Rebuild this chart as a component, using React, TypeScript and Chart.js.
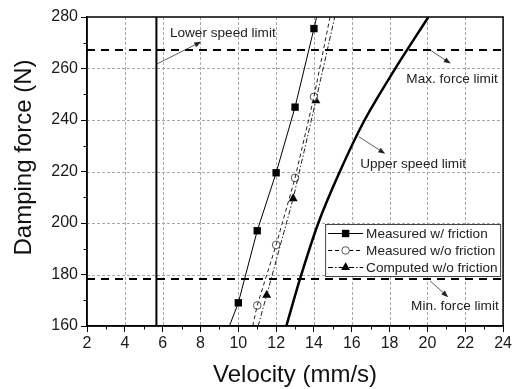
import React, { useEffect, useRef } from "react";
import { Chart, registerables } from "chart.js";

Chart.register(...registerables);

// ---- Data (velocity in mm/s, damping force in N) ----
const measuredFrictionV = [10, 11, 12, 13, 14];
const measuredFrictionF = [169, 197, 219.5, 245, 275.5];
const measuredFrictionFitV = [9.53, 10, 11, 12, 13, 14, 14.14];
const measuredFrictionFitF = [160, 169, 197, 219.5, 245, 275.5, 280];

const measuredNoFrictionV = [11, 12, 13, 14];
const measuredNoFrictionF = [168, 191.5, 217.5, 249];
const measuredNoFrictionFitV = [10.76, 11, 12, 13, 14, 14.85];
const measuredNoFrictionFitF = [160, 168, 191.5, 217.5, 249, 280];

const computedNoFrictionV = [11.5, 12.9, 14.1];
const computedNoFrictionF = [172, 209.5, 247.5];
const computedNoFrictionFitV = [11.05, 11.5, 12.9, 14.1, 15.1];
const computedNoFrictionFitF = [160, 172, 209.5, 247.5, 280];

const upperSpeedV = [12.54, 13.25, 14.23, 15.37, 16.68, 18.3, 20.05];
const upperSpeedF = [160, 178, 200, 220, 240, 260, 280];

const lowerSpeedLimit = 5.67;
const maxForceLimit = 267.2;
const minForceLimit = 178.3;

const xMin = 2, xMax = 24, xStep = 2;
const yMin = 160, yMax = 280, yStep = 20;

const legendLabels = ["Measured w/ friction", "Measured w/o friction", "Computed w/o friction"];

// annotations: text position (data coords), arrow from -> to (data coords)
const annotationTexts = ["Lower speed limit", "Max. force limit", "Upper speed limit", "Min. force limit"];
const annotationTextX = [9.18, 21.3, 19.24, 21.45];
const annotationTextY = [273.8, 255.9, 222.9, 167.8];
const arrowFromX = [5.68, 20.14, 16.37, 20.14];
const arrowFromY = [261.7, 267.2, 233.5, 177.5];
const arrowToX = [8.04, 21.23, 17.77, 21.1];
const arrowToY = [270.4, 261.9, 226.9, 171.2];

const FONT = '"Liberation Sans", Arial, sans-serif';
const zip = (xs: number[], ys: number[]) => xs.map((x, i) => ({ x, y: ys[i] }));

function drawArrow(ctx: CanvasRenderingContext2D, x1: number, y1: number, x2: number, y2: number) {
  const ang = Math.atan2(y2 - y1, x2 - x1);
  const hl = 7, hw = 2.6;
  ctx.save();
  ctx.strokeStyle = "#333";
  ctx.fillStyle = "#222";
  ctx.lineWidth = 0.8;
  ctx.beginPath();
  ctx.moveTo(x1, y1);
  ctx.lineTo(x2 - Math.cos(ang) * hl * 0.8, y2 - Math.sin(ang) * hl * 0.8);
  ctx.stroke();
  ctx.beginPath();
  ctx.moveTo(x2, y2);
  ctx.lineTo(x2 - Math.cos(ang) * hl - Math.sin(ang) * hw, y2 - Math.sin(ang) * hl + Math.cos(ang) * hw);
  ctx.lineTo(x2 - Math.cos(ang) * hl + Math.sin(ang) * hw, y2 - Math.sin(ang) * hl - Math.cos(ang) * hw);
  ctx.closePath();
  ctx.fill();
  ctx.restore();
}

function drawMarker(ctx: CanvasRenderingContext2D, kind: string, x: number, y: number) {
  ctx.save();
  ctx.beginPath();
  if (kind === "rect") {
    ctx.fillStyle = "#000";
    ctx.fillRect(x - 3.7, y - 3.7, 7.4, 7.4);
  } else if (kind === "circle") {
    ctx.arc(x, y, 3.8, 0, Math.PI * 2);
    ctx.fillStyle = "#fff";
    ctx.fill();
    ctx.strokeStyle = "#555";
    ctx.lineWidth = 1;
    ctx.stroke();
  } else {
    const r = 5.2;
    ctx.moveTo(x, y - r);
    ctx.lineTo(x + r * 0.866, y + r * 0.5);
    ctx.lineTo(x - r * 0.866, y + r * 0.5);
    ctx.closePath();
    ctx.fillStyle = "#000";
    ctx.fill();
  }
  ctx.restore();
}

const decorPlugin = {
  id: "decor",
  beforeDatasetsDraw(chart: any) {
    const { ctx, chartArea: a, scales } = chart;
    const xs = scales.x, ys = scales.y;
    ctx.save();
    ctx.strokeStyle = "#a8a8a8";
    ctx.lineWidth = 1;
    ctx.setLineDash([3, 2]);
    for (let v = xMin + xStep; v < xMax; v += xStep) {
      const px = Math.round(xs.getPixelForValue(v)) + 0.5;
      ctx.beginPath();
      ctx.moveTo(px, a.top);
      ctx.lineTo(px, a.bottom);
      ctx.stroke();
    }
    for (let v = yMin + yStep; v < yMax; v += yStep) {
      const py = Math.round(ys.getPixelForValue(v)) + 0.5;
      ctx.beginPath();
      ctx.moveTo(a.left, py);
      ctx.lineTo(a.right, py);
      ctx.stroke();
    }
    ctx.restore();
  },
  afterDatasetsDraw(chart: any) {
    const { ctx, chartArea: a, scales } = chart;
    const xs = scales.x, ys = scales.y;
    ctx.save();
    // frame
    ctx.strokeStyle = "#000";
    ctx.lineWidth = 1.5;
    ctx.strokeRect(a.left, a.top, a.right - a.left, a.bottom - a.top);
    // minor ticks
    ctx.lineWidth = 1;
    for (let v = xMin + xStep / 2; v < xMax; v += xStep) {
      const px = Math.round(xs.getPixelForValue(v)) + 0.5;
      ctx.beginPath();
      ctx.moveTo(px, a.bottom);
      ctx.lineTo(px, a.bottom + 3.5);
      ctx.stroke();
    }
    for (let v = yMin + yStep / 2; v < yMax; v += yStep) {
      const py = Math.round(ys.getPixelForValue(v)) + 0.5;
      ctx.beginPath();
      ctx.moveTo(a.left, py);
      ctx.lineTo(a.left - 3.5, py);
      ctx.stroke();
    }
    // annotations
    ctx.fillStyle = "#222";
    ctx.font = `13.6px ${FONT}`;
    ctx.textAlign = "center";
    ctx.textBaseline = "middle";
    annotationTexts.forEach((t, i) => {
      ctx.fillText(t, xs.getPixelForValue(annotationTextX[i]), ys.getPixelForValue(annotationTextY[i]));
      drawArrow(
        ctx,
        xs.getPixelForValue(arrowFromX[i]),
        ys.getPixelForValue(arrowFromY[i]),
        xs.getPixelForValue(arrowToX[i]),
        ys.getPixelForValue(arrowToY[i])
      );
    });
    // legend
    const lx = a.right - 178, ly = a.bottom - 102, lw = 175, lh = 52;
    ctx.fillStyle = "#fff";
    ctx.fillRect(lx, ly, lw, lh);
    ctx.strokeStyle = "#444";
    ctx.lineWidth = 1;
    ctx.setLineDash([]);
    ctx.strokeRect(lx + 0.5, ly + 0.5, lw, lh);
    const dashes = [[], [4, 3], [5, 2, 1.5, 2]];
    const markers = ["rect", "circle", "triangle"];
    legendLabels.forEach((lab, i) => {
      const yy = ly + 9.5 + i * 17;
      ctx.save();
      ctx.strokeStyle = "#000";
      ctx.lineWidth = 1;
      ctx.setLineDash(dashes[i]);
      ctx.beginPath();
      ctx.moveTo(lx + 3, yy);
      ctx.lineTo(lx + 38, yy);
      ctx.stroke();
      ctx.restore();
      drawMarker(ctx, markers[i], lx + 20.5, yy);
      ctx.fillStyle = "#222";
      ctx.font = `13.6px ${FONT}`;
      ctx.textAlign = "left";
      ctx.textBaseline = "middle";
      ctx.fillText(lab, lx + 41, yy + 0.5);
    });
    ctx.restore();
  },
  afterDraw(chart: any) {
    const { ctx, chartArea: a } = chart;
    ctx.save();
    ctx.fillStyle = "#111";
    ctx.font = `24px ${FONT}`;
    ctx.textAlign = "center";
    ctx.textBaseline = "alphabetic";
    ctx.fillText("Velocity (mm/s)", (a.left + a.right) / 2, 382);
    ctx.translate(31, 157.5);
    ctx.rotate(-Math.PI / 2);
    ctx.fillText("Damping force (N)", 0, 0);
    ctx.restore();
  },
};

export default function App() {
  const ref = useRef<HTMLCanvasElement | null>(null);
  useEffect(() => {
    if (!ref.current) return;
    const lineDs = (label: string, xs: number[], ys: number[], extra: any) => ({
      label,
      data: zip(xs, ys),
      borderColor: "#000",
      backgroundColor: "#000",
      borderWidth: 1,
      pointRadius: 0,
      showLine: true,
      fill: false,
      ...extra,
    });
    const chart = new Chart(ref.current, {
      type: "scatter",
      data: {
        datasets: [
          lineDs("limitMax", [xMin, xMax], [maxForceLimit, maxForceLimit], { borderWidth: 2, borderDash: [8, 6] }),
          lineDs("limitMin", [xMin, xMax], [minForceLimit, minForceLimit], { borderWidth: 2, borderDash: [8, 6] }),
          lineDs("lowerSpeed", [lowerSpeedLimit, lowerSpeedLimit], [yMin, yMax], { borderWidth: 2 }),
          lineDs("upperSpeed", upperSpeedV, upperSpeedF, { borderWidth: 2.5, tension: 0.3 }),
          lineDs("fit1", measuredFrictionFitV, measuredFrictionFitF, {}),
          lineDs("fit2", measuredNoFrictionFitV, measuredNoFrictionFitF, { borderDash: [4, 3], borderColor: "#222" }),
          lineDs("fit3", computedNoFrictionFitV, computedNoFrictionFitF, { borderDash: [5, 2, 1.5, 2], borderColor: "#222" }),
          {
            label: legendLabels[0],
            data: zip(measuredFrictionV, measuredFrictionF),
            pointStyle: "rect",
            pointRadius: 5.2,
            backgroundColor: "#000",
            borderColor: "#000",
            borderWidth: 0,
            showLine: false,
          },
          {
            label: legendLabels[1],
            data: zip(measuredNoFrictionV, measuredNoFrictionF),
            pointStyle: "circle",
            pointRadius: 3.8,
            backgroundColor: "#fff",
            borderColor: "#555",
            borderWidth: 1,
            showLine: false,
          },
          {
            label: legendLabels[2],
            data: zip(computedNoFrictionV, computedNoFrictionF),
            pointStyle: "triangle",
            pointRadius: 5.2,
            backgroundColor: "#000",
            borderColor: "#000",
            borderWidth: 0,
            showLine: false,
          },
        ],
      },
      options: {
        responsive: false,
        animation: false,
        layout: { padding: { top: 17, right: 8, left: 0, bottom: 0 } },
        plugins: { legend: { display: false }, tooltip: { enabled: false } },
        scales: {
          x: {
            type: "linear",
            min: xMin,
            max: xMax,
            ticks: { stepSize: xStep, color: "#1a1a1a", font: { family: FONT, size: 16 }, padding: 2, maxRotation: 0 },
            grid: { display: true, drawOnChartArea: false, drawTicks: true, tickLength: 6, tickColor: "#000", tickWidth: 1 },
            border: { display: true, color: "#000", width: 1.5 },
            afterFit: (s: any) => { s.height = 63; },
          },
          y: {
            type: "linear",
            min: yMin,
            max: yMax,
            ticks: { stepSize: yStep, color: "#1a1a1a", font: { family: FONT, size: 16 }, padding: 3 },
            grid: { display: true, drawOnChartArea: false, drawTicks: true, tickLength: 6, tickColor: "#000", tickWidth: 1 },
            border: { display: true, color: "#000", width: 1.5 },
            afterFit: (s: any) => { s.width = 87; },
          },
        },
      },
      plugins: [decorPlugin],
    } as any);
    return () => chart.destroy();
  }, []);
  return (
    <div style={{ position: "fixed", left: 0, top: 0, width: 514, height: 389, background: "#fff" }}>
      <canvas ref={ref} width={514} height={389} />
    </div>
  );
}
